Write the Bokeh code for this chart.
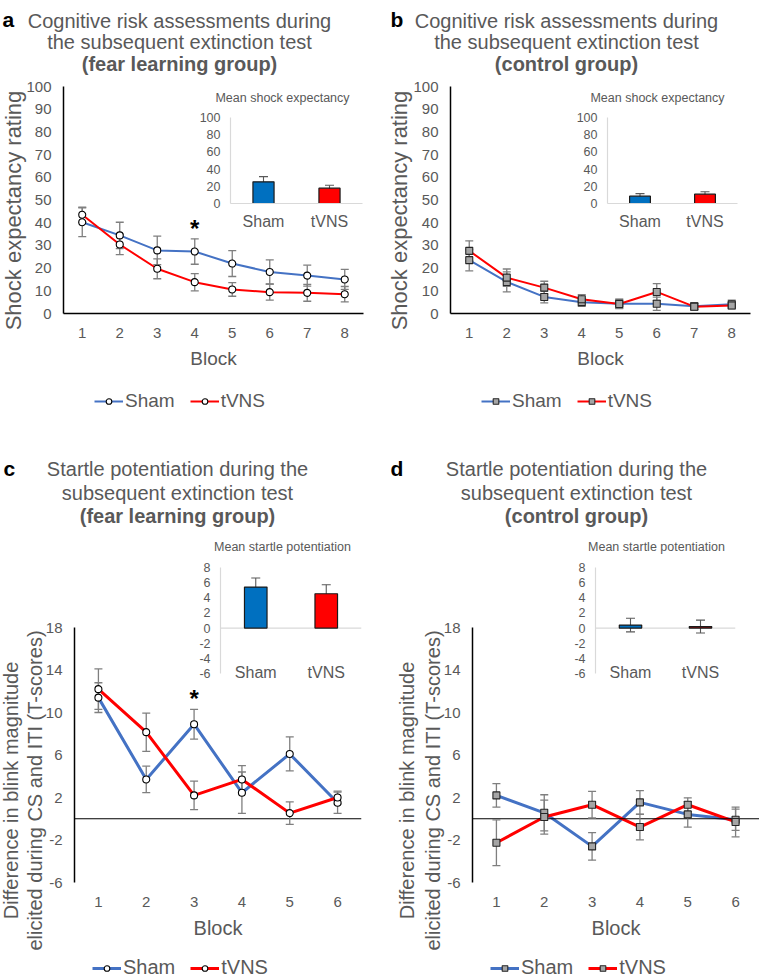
from bokeh.plotting import figure
from bokeh.models import (ColumnDataSource, Whisker, TeeHead, Span, Label, Legend,
                          LegendItem, FixedTicker, Column, FactorRange, Range1d)
from bokeh.core.properties import value
from bokeh.embed import file_html
from bokeh.resources import INLINE

FONT = "Liberation Sans"
GRAY = "#595959"
BLUE_LINE = "#4472C4"
RED_LINE = "#FF0000"
BLUE_BAR = "#0070C0"
RED_BAR = "#FF0000"
PAGE_W, PAGE_H = 759, 977
NAN = float("nan")

# ---------------- data ----------------
blocks8 = ["1", "2", "3", "4", "5", "6", "7", "8"]
blocks6 = ["1", "2", "3", "4", "5", "6"]
groups = ["Sham", "tVNS"]

# panel a: shock expectancy, fear learning group
a_sham = [40.2, 34.4, 27.8, 27.3, 22.0, 18.3, 16.7, 15.0]
a_sham_err = [6.3, 5.8, 6.3, 5.6, 5.7, 5.3, 4.6, 4.4]
a_tvns = [43.5, 30.4, 19.7, 13.8, 10.6, 9.4, 9.1, 8.5]
a_tvns_err = [3.3, 4.5, 4.4, 3.8, 3.0, 3.5, 3.7, 3.4]
a_star_block = ["4"]
a_star_y = [37.6]
a_inset_mean = [25.2, 17.8]
a_inset_err = [6.0, 3.5]

# panel b: shock expectancy, control group
b_sham = [23.5, 13.9, 7.3, 5.0, 4.3, 4.3, 3.2, 4.1]
b_sham_err = [4.7, 4.4, 2.6, 1.8, 2.0, 2.9, 1.5, 1.8]
b_tvns = [27.6, 15.8, 11.4, 6.3, 4.2, 9.5, 3.0, 3.5]
b_tvns_err = [4.4, 3.8, 2.8, 2.0, 2.0, 3.7, 1.5, 1.5]
b_inset_mean = [8.5, 10.9]
b_inset_err = [3.0, 2.7]

# panel c: startle potentiation, fear learning group
c_sham = [11.4, 3.7, 8.9, 2.45, 6.1, 1.5]
c_sham_err = [1.4, 1.25, 1.4, 1.95, 1.6, 1.0]
c_tvns = [12.2, 8.15, 2.2, 3.7, 0.53, 2.0]
c_tvns_err = [1.9, 1.8, 1.35, 1.3, 1.05, 0.6]
c_star_block = ["3"]
c_star_y = [11.3]
c_inset_mean = [5.42, 4.53]
c_inset_err = [1.2, 1.2]

# panel d: startle potentiation, control group
d_sham = [2.2, 0.56, -2.6, 1.54, 0.41, -0.1]
d_sham_err = [1.1, 1.7, 1.3, 1.1, 1.2, 1.0]
d_tvns = [-2.26, 0.16, 1.32, -0.78, 1.32, -0.3]
d_tvns_err = [2.15, 1.6, 1.25, 1.2, 0.65, 1.4]
d_inset_mean = [0.4, 0.2]
d_inset_err = [0.9, 0.85]

yticks_shock = [0, 10, 20, 30, 40, 50, 60, 70, 80, 90, 100]
yticks_startle = [-6, -2, 2, 6, 10, 14, 18]
yticks_inset_shock = [0, 20, 40, 60, 80, 100]
yticks_inset_startle = [-6, -4, -2, 0, 2, 4, 6, 8]

# texts placed on the page (text, x, y, size, bold, color, align, baseline, angle)
page_texts = [
    ("a", 2, 19, "21px", True, "#000000", "left", "alphabetic", 0),
    ("Cognitive risk assessments during", 179, 20, "20px", False, GRAY, "center", "alphabetic", 0),
    ("the subsequent extinction test", 179, 41.5, "20px", False, GRAY, "center", "alphabetic", 0),
    ("(fear learning group)", 179, 63, "20px", True, GRAY, "center", "alphabetic", 0),
    ("b", 390, 19, "21px", True, "#000000", "left", "alphabetic", 0),
    ("Cognitive risk assessments during", 566, 20, "20px", False, GRAY, "center", "alphabetic", 0),
    ("the subsequent extinction test", 566, 41.5, "20px", False, GRAY, "center", "alphabetic", 0),
    ("(control group)", 566, 63, "20px", True, GRAY, "center", "alphabetic", 0),
    ("c", 3, 468, "21px", True, "#000000", "left", "alphabetic", 0),
    ("Startle potentiation during the", 177, 468, "20px", False, GRAY, "center", "alphabetic", 0),
    ("subsequent extinction test", 177, 492, "20px", False, GRAY, "center", "alphabetic", 0),
    ("(fear learning group)", 177, 515, "20px", True, GRAY, "center", "alphabetic", 0),
    ("d", 390, 468, "21px", True, "#000000", "left", "alphabetic", 0),
    ("Startle potentiation during the", 576, 468, "20px", False, GRAY, "center", "alphabetic", 0),
    ("subsequent extinction test", 576, 492, "20px", False, GRAY, "center", "alphabetic", 0),
    ("(control group)", 576, 515, "20px", True, GRAY, "center", "alphabetic", 0),
    ("Shock expectancy rating", 12.5, 210, "22px", False, GRAY, "center", "middle", 90),
    ("Shock expectancy rating", 399, 210, "22px", False, GRAY, "center", "middle", 90),
    ("Difference in blink magnitude", 10, 790, "20px", False, GRAY, "center", "middle", 90),
    ("elicited during CS and ITI (T-scores)", 34, 790, "20px", False, GRAY, "center", "middle", 90),
    ("Difference in blink magnitude", 406, 790, "20px", False, GRAY, "center", "middle", 90),
    ("elicited during CS and ITI (T-scores)", 432, 790, "20px", False, GRAY, "center", "middle", 90),
    ("Mean shock expectancy", 282, 97.5, "12.5px", False, GRAY, "center", "alphabetic", 0),
    ("Mean shock expectancy", 657, 97.5, "12.5px", False, GRAY, "center", "alphabetic", 0),
    ("Mean startle potentiation", 282, 546.5, "12.5px", False, GRAY, "center", "alphabetic", 0),
    ("Mean startle potentiation", 656, 546.5, "12.5px", False, GRAY, "center", "alphabetic", 0),
]

# legends: (left x of first glyph, centre y, marker, line width, font size)
legends = [
    (94, 401, "circle", 2, "19px"),
    (481, 401, "square", 2, "19px"),
    (92, 968, "circle", 3, "20px"),
    (490, 968, "square", 3, "20px"),
]


def no_align(p):
    if "frame_align" in p.properties():
        p.frame_align = False


def place(p, left, top):
    p.styles = {"position": "absolute", "left": f"{left}px", "top": f"{top}px"}


def make_fig(canvas, frame, x_factors, y_start, y_end):
    left, top, w, h = canvas
    fl, ft, fr, fb = frame
    p = figure(width=w, height=h, x_range=FactorRange(factors=x_factors, range_padding=0),
               y_range=Range1d(y_start, y_end), output_backend="svg", toolbar_location=None,
               min_border_left=fl - left, min_border_right=left + w - fr,
               min_border_top=ft - top, min_border_bottom=top + h - fb)
    no_align(p)
    place(p, left, top)
    p.grid.grid_line_color = None
    p.outline_line_color = None
    p.background_fill_alpha = 0
    p.border_fill_alpha = 0
    for ax in (p.xaxis[0], p.yaxis[0]):
        ax.major_tick_line_color = None
        ax.minor_tick_line_color = None
        ax.major_tick_out = 0
        ax.major_tick_in = 0
        ax.major_label_text_font = FONT
        ax.major_label_text_color = GRAY
        ax.axis_label_text_font = FONT
        ax.axis_label_text_color = GRAY
        ax.axis_label_text_font_style = "normal"
    return p


def main_panel(canvas, frame, blocks, sham, sham_err, tvns, tvns_err, yr, yticks,
               marker, lw, block_size, star=None, zero_line=False):
    p = make_fig(canvas, frame, blocks, yr[0], yr[1])
    p.yaxis.ticker = FixedTicker(ticks=yticks)
    p.yaxis.major_label_overrides = {t: str(t) for t in yticks}
    p.yaxis.major_label_text_font_size = "15px"
    p.yaxis.major_label_standoff = 12
    p.yaxis.axis_line_color = "#000000"
    p.yaxis.axis_line_width = 1.5
    p.xaxis.major_label_text_font_size = "15px"
    p.xaxis.major_label_standoff = 14
    p.xaxis.axis_label = "Block"
    p.xaxis.axis_label_text_font_size = block_size
    p.xaxis.axis_label_standoff = 7
    if zero_line:
        p.xaxis.axis_line_color = None
        p.add_layout(Span(location=0, dimension="width", line_color="#000000",
                          line_width=1.2, level="underlay"))
    else:
        p.xaxis.axis_line_color = "#000000"
        p.xaxis.axis_line_width = 1.5

    srcs = []
    for vals, errs, col in ((sham, sham_err, BLUE_LINE), (tvns, tvns_err, RED_LINE)):
        src = ColumnDataSource(dict(x=blocks, y=vals,
                                    upper=[v + e for v, e in zip(vals, errs)],
                                    lower=[v - e for v, e in zip(vals, errs)]))
        p.line("x", "y", source=src, line_color=col, line_width=lw, level="underlay")
        srcs.append(src)
    for src in srcs:
        p.add_layout(Whisker(source=src, base="x", upper="upper", lower="lower",
                             line_color="#7F7F7F", line_width=1.3, level="underlay",
                             upper_head=TeeHead(size=8, line_color="#7F7F7F", line_width=1.3),
                             lower_head=TeeHead(size=8, line_color="#7F7F7F", line_width=1.3)))
    for src in srcs:
        if marker == "circle":
            p.scatter("x", "y", source=src, marker="circle", size=7,
                      fill_color="white", line_color="#000000", line_width=1.1)
        else:
            p.scatter("x", "y", source=src, marker="square", size=7,
                      fill_color="#A5A5A5", line_color="#262626", line_width=1.1)
    if star is not None:
        p.text(x=star[0], y=star[1], text=["*"] * len(star[0]), text_font=value(FONT),
               text_font_size="24px", text_font_style="bold", text_color="#000000",
               text_align="center", text_baseline="middle")
    return p


def inset_panel(canvas, frame, means, errs, yr, yticks, cat_standoff, zero_span):
    p = make_fig(canvas, frame, groups, yr[0], yr[1])
    p.yaxis.ticker = FixedTicker(ticks=yticks)
    p.yaxis.major_label_overrides = {t: str(t) for t in yticks}
    p.yaxis.major_label_text_font_size = "12.5px"
    p.yaxis.major_label_standoff = 10
    p.yaxis.axis_line_color = "#D9D9D9"
    p.yaxis.axis_line_width = 1.2
    p.xaxis.major_label_text_font_size = "16px"
    p.xaxis.major_label_standoff = cat_standoff
    if zero_span:
        p.xaxis.axis_line_color = None
        p.add_layout(Span(location=0, dimension="width", line_color="#D9D9D9",
                          line_width=1.2, level="underlay"))
    else:
        p.xaxis.axis_line_color = "#D9D9D9"
        p.xaxis.axis_line_width = 1.2
    src = ColumnDataSource(dict(x=groups, top=means, color=[BLUE_BAR, RED_BAR],
                                upper=[m + e for m, e in zip(means, errs)],
                                lower=[m - e for m, e in zip(means, errs)]))
    p.vbar(x="x", top="top", bottom=0, width=0.32, source=src, fill_color="color",
           line_color="#1A1A1A", line_width=1.2)
    p.add_layout(Whisker(source=src, base="x", upper="upper", lower="lower",
                         line_color="#595959", line_width=1.1,
                         upper_head=TeeHead(size=9, line_color="#595959", line_width=1.1),
                         lower_head=TeeHead(size=9, line_color="#595959", line_width=1.1)))
    return p


pa = main_panel((0, 0, 380, 450), (63, 86, 363, 313), blocks8, a_sham, a_sham_err,
                a_tvns, a_tvns_err, (0, 100), yticks_shock, "circle", 2, "19px",
                star=(a_star_block, a_star_y))
pb = main_panel((380, 0, 379, 450), (450, 86, 750, 313), blocks8, b_sham, b_sham_err,
                b_tvns, b_tvns_err, (0, 100), yticks_shock, "square", 2, "19px")
pc = main_panel((0, 450, 380, 527), (74, 627, 361, 882), blocks6, c_sham, c_sham_err,
                c_tvns, c_tvns_err, (-6, 18), yticks_startle, "circle", 3, "20px",
                star=(c_star_block, c_star_y), zero_line=True)
pd_ = main_panel((380, 450, 379, 527), (472, 627, 759, 882), blocks6, d_sham, d_sham_err,
                 d_tvns, d_tvns_err, (-6, 18), yticks_startle, "square", 3, "20px",
                 zero_line=True)

ia = inset_panel((195, 78, 180, 165), (230, 117, 362, 203), a_inset_mean, a_inset_err,
                 (0, 100), yticks_inset_shock, 9, False)
ib = inset_panel((572, 78, 180, 165), (607, 117, 737, 203), b_inset_mean, b_inset_err,
                 (0, 100), yticks_inset_shock, 9, False)
ic = inset_panel((185, 525, 190, 165), (220, 567, 361, 673), c_inset_mean, c_inset_err,
                 (-6, 8), yticks_inset_startle, -10, True)
idd = inset_panel((560, 525, 190, 165), (595, 567, 735, 673), d_inset_mean, d_inset_err,
                  (-6, 8), yticks_inset_startle, -10, True)

# text layer: one transparent figure over the whole page, pixel coordinates (y down)
ov = figure(width=PAGE_W, height=PAGE_H, x_range=Range1d(0, PAGE_W),
            y_range=Range1d(PAGE_H, 0), x_axis_type=None, y_axis_type=None,
            output_backend="svg", toolbar_location=None, min_border=0)
no_align(ov)
place(ov, 0, 0)
ov.grid.grid_line_color = None
ov.outline_line_color = None
ov.background_fill_alpha = 0
ov.border_fill_alpha = 0
for text, x, y, size, bold, color, align, baseline, angle in page_texts:
    ov.add_layout(Label(x=x, y=y, text=text, text_font=FONT, text_font_size=size,
                        text_font_style="bold" if bold else "normal", text_color=color,
                        text_align=align, text_baseline=baseline, angle=angle,
                        angle_units="deg"))

LEG_H = 22
for lx, cy, marker, lw, fsize in legends:
    items = []
    for name, col in zip(groups, (BLUE_LINE, RED_LINE)):
        # legend key only: a single NaN point, so nothing is drawn on the page itself
        ln = ov.line(x=[NAN], y=[NAN], line_color=col, line_width=lw)
        if marker == "circle":
            sc = ov.scatter(x=[NAN], y=[NAN], marker="circle", size=7, fill_color="white",
                            line_color="#000000", line_width=1.1)
        else:
            sc = ov.scatter(x=[NAN], y=[NAN], marker="square", size=7, fill_color="#A5A5A5",
                            line_color="#262626", line_width=1.1)
        items.append(LegendItem(label=name, renderers=[ln, sc]))
    ov.add_layout(Legend(items=items, location=(lx, PAGE_H - (cy + LEG_H / 2)),
                         orientation="horizontal", glyph_width=29, glyph_height=14,
                         label_height=14, label_standoff=2, spacing=15, padding=0,
                         margin=0, border_line_color=None, background_fill_alpha=0,
                         label_text_font=FONT, label_text_font_size=fsize,
                         label_text_color=GRAY))

root = Column(children=[pa, pb, pc, pd_, ia, ib, ic, idd, ov], width=PAGE_W, height=PAGE_H,
              sizing_mode="fixed",
              styles={"position": "absolute", "left": "0px", "top": "0px"})

with open("out.html", "w") as f:
    f.write(file_html(root, INLINE))
